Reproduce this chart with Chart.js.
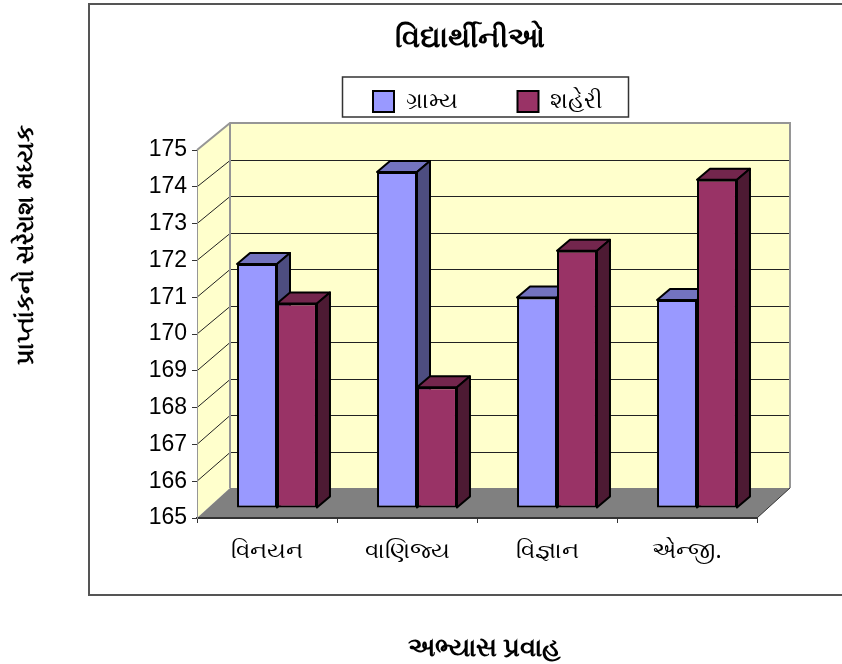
<!DOCTYPE html>
<html lang="gu">
<head>
    <meta charset="UTF-8">
    <title>વિદ્યાર્થીનીઓ</title>
    <script src="https://cdn.jsdelivr.net/npm/chart.js"></script>
    <style>
        html, body { margin: 0; padding: 0; background: #fff; overflow: hidden; }
        canvas { display: block; }
    </style>
</head>
<body>
    <canvas id="barChart" width="842" height="664"></canvas>

    <script>
        const streams = ['વિનયન', 'વાણિજ્ય', 'વિજ્ઞાન', 'એન્જી.'];
        const rural = [171.63, 174.13, 170.72, 170.65];
        const urban = [170.56, 168.28, 171.99, 173.92];
        const yMin = 165;
        const yMax = 175;
        const chartTitle = 'વિદ્યાર્થીનીઓ';
        const ruralLabel = 'ગ્રામ્ય';
        const urbanLabel = 'શહેરી';
        const xTitle = 'અભ્યાસ પ્રવાહ';
        const yTitle = 'પ્રાપ્તાંકનો સરેરાશ મધ્યક';

        const fontName = '"Noto Sans", "DejaVu Sans", sans-serif';
        const barShift = 10;   // bars sit a little behind the front plane
        const barDepth = { x: 13, y: -11 };
        const wallDepth = 33;

        // y on the back wall for a y on the front plane
        function backY(y, area) {
            return 123 + (y - area.top) * (365 / (area.bottom - area.top));
        }

        // axis titles in the original are not centred on the plot
        function shiftAxisTitle(chart, scale, dx, dy) {
            const drawTitle = scale.drawTitle;
            scale.drawTitle = function () {
                chart.ctx.save();
                chart.ctx.translate(dx, dy);
                drawTitle.call(scale);
                chart.ctx.restore();
            };
        }

        function drawBarFaces(ctx, meta, ds) {
            ctx.save();
            ctx.lineWidth = 2;
            ctx.strokeStyle = '#000';
            ctx.lineJoin = 'round';
            meta.data.forEach(bar => {
                const l = bar.x - bar.width / 2, r = bar.x + bar.width / 2;
                const t = bar.y, b = bar.base;
                const dx = barDepth.x, dy = barDepth.y;
                ctx.fillStyle = ds.topColor;
                ctx.beginPath();
                ctx.moveTo(l, t); ctx.lineTo(l + dx, t + dy); ctx.lineTo(r + dx, t + dy); ctx.lineTo(r, t);
                ctx.closePath();
                ctx.fill(); ctx.stroke();
                ctx.fillStyle = ds.sideColor;
                ctx.beginPath();
                ctx.moveTo(r, t); ctx.lineTo(r + dx, t + dy); ctx.lineTo(r + dx, b + dy); ctx.lineTo(r, b);
                ctx.closePath();
                ctx.fill(); ctx.stroke();
            });
            ctx.restore();
        }

        const depthPlugin = {
            id: 'depth',
            afterLayout(chart) {
                const t = chart.titleBlock;
                t.left = 88; t.right = 852; t.top = 0;
                const l = chart.legend;
                const pad = l.options.labels.padding;
                l.left = 373 - pad; l.right = 842; l.top = 90 - pad;
            },
            beforeDraw(chart) {
                const { ctx, chartArea: a, scales } = chart;
                ctx.save();

                // outer frame
                ctx.strokeStyle = '#555';
                ctx.lineWidth = 2;
                ctx.beginPath();
                ctx.moveTo(844, 4); ctx.lineTo(89, 4); ctx.lineTo(89, 595); ctx.lineTo(844, 595);
                ctx.stroke();

                // legend box
                ctx.lineWidth = 1.5;
                ctx.strokeStyle = '#333';
                ctx.strokeRect(342.5, 77, 286, 40);

                const wallX = a.left + wallDepth;
                const wallR = a.right + wallDepth;
                const wallT = backY(a.top, a);
                const wallB = backY(a.bottom, a);

                ctx.fillStyle = '#FFFFCC';
                ctx.fillRect(wallX, wallT, wallR - wallX, wallB - wallT);
                ctx.beginPath();
                ctx.moveTo(a.left, a.top); ctx.lineTo(wallX, wallT);
                ctx.lineTo(wallX, wallB); ctx.lineTo(a.left, a.bottom);
                ctx.closePath();
                ctx.fill();

                // floor
                ctx.fillStyle = '#808080';
                ctx.beginPath();
                ctx.moveTo(a.left, a.bottom); ctx.lineTo(wallX, wallB);
                ctx.lineTo(wallR, wallB); ctx.lineTo(a.right, a.bottom);
                ctx.closePath();
                ctx.fill();

                // gridlines across side wall and back wall
                ctx.strokeStyle = '#222';
                ctx.lineWidth = 1;
                scales.y.ticks.forEach(tick => {
                    if (tick.value === yMin || tick.value === yMax) return;
                    const y = scales.y.getPixelForValue(tick.value);
                    const by = Math.round(backY(y, a)) + 0.5;
                    ctx.beginPath();
                    ctx.moveTo(a.left, y); ctx.lineTo(wallX, by); ctx.lineTo(wallR, by);
                    ctx.stroke();
                });

                // grey wall edges
                ctx.strokeStyle = '#969696';
                ctx.lineWidth = 2;
                ctx.beginPath();
                ctx.moveTo(a.left, a.top); ctx.lineTo(wallX, wallT); ctx.lineTo(wallR, wallT); ctx.lineTo(wallR, wallB);
                ctx.moveTo(wallX, wallT); ctx.lineTo(wallX, wallB);
                ctx.stroke();

                // front diagonal of the floor on the right
                ctx.strokeStyle = '#333';
                ctx.lineWidth = 1;
                ctx.beginPath();
                ctx.moveTo(a.right, a.bottom); ctx.lineTo(wallR, wallB);
                ctx.stroke();
                ctx.restore();
            },
            // rural first so the urban front covers the rural side face
            beforeDatasetsDraw(chart) {
                const { ctx } = chart;
                ctx.save();
                ctx.translate(barShift, -barShift);
                chart.data.datasets.forEach((ds, i) => {
                    const meta = chart.getDatasetMeta(i);
                    drawBarFaces(ctx, meta, ds);
                    meta.controller.draw();
                });
                ctx.restore();
                return false;
            }
        };

        const chart = new Chart(document.getElementById('barChart'), {
            type: 'bar',
            data: {
                labels: streams,
                datasets: [
                    {
                        label: ruralLabel, data: rural, base: yMin,
                        backgroundColor: '#9999FF', borderColor: '#000', borderWidth: 2, borderSkipped: false,
                        topColor: '#7373BF', sideColor: '#4D4D80'
                    },
                    {
                        label: urbanLabel, data: urban, base: yMin,
                        backgroundColor: '#993366', borderColor: '#000', borderWidth: 2, borderSkipped: false,
                        topColor: '#73264D', sideColor: '#4D1A33'
                    }
                ]
            },
            options: {
                responsive: false,
                animation: false,
                layout: { padding: { top: 1.2, right: 85, left: 0, bottom: 0 } },
                datasets: { bar: { barPercentage: 1, categoryPercentage: 0.571 } },
                plugins: {
                    title: {
                        display: true, text: chartTitle, color: '#000',
                        font: { family: fontName, size: 29, weight: 'bold' },
                        padding: { top: 21, bottom: 0 }
                    },
                    legend: {
                        position: 'top', align: 'start',
                        labels: {
                            boxWidth: 21, boxHeight: 21, padding: 60, color: '#000',
                            font: { family: fontName, size: 23 }
                        }
                    },
                    tooltip: { enabled: false }
                },
                scales: {
                    x: {
                        afterFit(scale) { scale.height = 146; },
                        grid: { drawOnChartArea: false, color: '#333', tickLength: 5 },
                        border: { color: '#333', width: 2 },
                        ticks: { autoSkip: false, maxRotation: 0, padding: 15, color: '#000',
                                 font: { family: fontName, size: 23 } },
                        title: {
                            display: true, text: xTitle, color: '#000',
                            font: { family: fontName, size: 26, weight: 'bold' },
                            padding: { top: 0, bottom: 0 }
                        }
                    },
                    y: {
                        min: yMin, max: yMax,
                        afterFit(scale) { scale.width = 197; },
                        grid: { drawOnChartArea: false, color: '#333', tickLength: 5 },
                        border: { color: '#969696', width: 1 },
                        ticks: { stepSize: 1, padding: 5, color: '#000',
                                 font: { family: '"Liberation Sans", Arial, sans-serif', size: 23 } },
                        title: {
                            display: true, text: yTitle, color: '#000',
                            font: { family: fontName, size: 24, weight: 'bold' },
                            padding: { top: 12, bottom: 0 }
                        }
                    }
                }
            },
            plugins: [depthPlugin]
        });
        shiftAxisTitle(chart, chart.scales.y, 0, -89);
        shiftAxisTitle(chart, chart.scales.x, 7, 0);
        chart.draw();
    </script>
</body>
</html>
